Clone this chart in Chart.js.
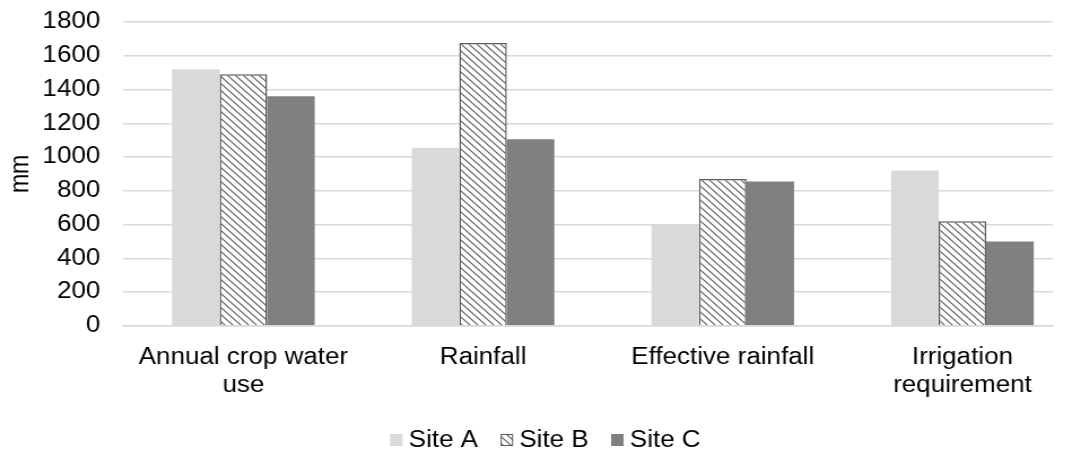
<!DOCTYPE html>
<html>
<head>
<meta charset="utf-8">
<script src="https://cdn.jsdelivr.net/npm/chart.js@4/dist/chart.umd.min.js"></script>
<style>
  html, body { margin: 0; padding: 0; background: #ffffff; overflow: hidden; }
  /* the chart is laid out on a narrower canvas and widened to the page width */
  #wrap { width: 949px; height: 455px; transform: scaleX(1.12961); transform-origin: 0 0; }
</style>
</head>
<body>
<div id="wrap"><canvas id="c" width="949" height="455"></canvas></div>
<script>
// Water balance components per site (mm)
const categories = [["Annual crop water", "use"], "Rainfall", "Effective rainfall", ["Irrigation", "requirement"]];
const siteNames = ["Site A", "Site B", "Site C"];
const siteA = [1520, 1055, 600, 920];
const siteB = [1490, 1675, 870, 620];
const siteC = [1360, 1105, 855, 500];
const yTicks = [0, 200, 400, 600, 800, 1000, 1200, 1400, 1600, 1800];
// x range of the plot, in category units (groups sit at 0..3)
const xRange = [-0.5028, 3.377];

const FAMILY = "'Liberation Sans', Arial, Helvetica, sans-serif";
const font = { family: FAMILY, size: 23, lineHeight: 1.2 };

const toPoints = (vals) => vals.map((v, i) => ({ x: i, y: v }));

// Diagonal hatch fill for Site B
function makeHatch(ctx) {
  const s = 7;
  const p = document.createElement('canvas');
  p.width = s; p.height = s;
  const g = p.getContext('2d');
  g.fillStyle = '#ffffff';
  g.fillRect(0, 0, s, s);
  g.strokeStyle = '#595959';
  g.lineWidth = 1.1;
  g.beginPath();
  for (let k = -1; k <= 1; k++) {
    g.moveTo(k * s - 1, -1);
    g.lineTo(k * s + s + 1, s + 1);
  }
  g.stroke();
  return ctx.createPattern(p, 'repeat');
}
const ctx = document.getElementById('c').getContext('2d');
const hatch = makeHatch(ctx);

// Legend row drawn under the axis: small key box, label, gap
const bottomLegend = {
  id: 'bottomLegend',
  afterDraw(chart) {
    const c = chart.ctx;
    const boxW = 11, boxH = 12, keyGap = 5.5, itemGap = 20;
    c.save();
    c.font = `${font.size}px ${FAMILY}`;
    c.textBaseline = 'middle';
    const items = chart.data.datasets.map(ds => ({ ds, w: c.measureText(ds.label).width }));
    const total = items.reduce((t, it) => t + boxW + keyGap + it.w, 0) + itemGap * (items.length - 1);
    let x = chart.width * 0.5087 - total / 2;
    const y = 440;
    items.forEach(it => {
      c.fillStyle = it.ds.backgroundColor;
      c.fillRect(x, y - boxH / 2, boxW, boxH);
      if (it.ds.borderWidth) {
        c.strokeStyle = it.ds.borderColor;
        c.lineWidth = 1;
        c.strokeRect(x + 0.5, y - boxH / 2 + 0.5, boxW - 1, boxH - 1);
      }
      x += boxW + keyGap;
      c.fillStyle = '#000000';
      c.fillText(it.ds.label, x, y + 1);
      x += it.w + itemGap;
    });
    c.restore();
  }
};

new Chart(ctx, {
  type: 'bar',
  data: {
    datasets: [
      { label: siteNames[0], data: toPoints(siteA), backgroundColor: '#d9d9d9', borderWidth: 0 },
      { label: siteNames[1], data: toPoints(siteB), backgroundColor: hatch, borderColor: '#595959', borderWidth: 1.5 },
      { label: siteNames[2], data: toPoints(siteC), backgroundColor: '#808080', borderWidth: 0 }
    ]
  },
  plugins: [bottomLegend],
  options: {
    responsive: false,
    animation: false,
    devicePixelRatio: 1,
    layout: { padding: { left: 5, right: 17, top: 22, bottom: 38 } },
    datasets: { bar: { categoryPercentage: 0.595, barPercentage: 1.0 } },
    plugins: {
      legend: { display: false },
      tooltip: { enabled: false }
    },
    scales: {
      x: {
        type: 'linear',
        offset: false,
        min: xRange[0], max: xRange[1],
        afterBuildTicks: (axis) => { axis.ticks = categories.map((_, i) => ({ value: i })); },
        grid: { display: false, drawTicks: false, offset: false },
        border: { color: '#d9d9d9', width: 1.5 },
        ticks: {
          font: font, color: '#000000', padding: 18, maxRotation: 0, autoSkip: false,
          callback: (v) => categories[v]
        }
      },
      y: {
        min: 0, max: 1800,
        afterBuildTicks: (axis) => { axis.ticks = yTicks.map(v => ({ value: v })); },
        grid: { color: '#d9d9d9', lineWidth: 1.5, drawTicks: true, tickLength: 20, tickColor: 'rgba(0,0,0,0)' },
        border: { display: false },
        ticks: { font: font, color: '#000000', padding: 0, autoSkip: false, callback: (v) => String(v) },
        title: { display: true, text: 'mm', font: font, color: '#000000', padding: { top: 0, bottom: 5 } }
      }
    }
  }
});
</script>
</body>
</html>
